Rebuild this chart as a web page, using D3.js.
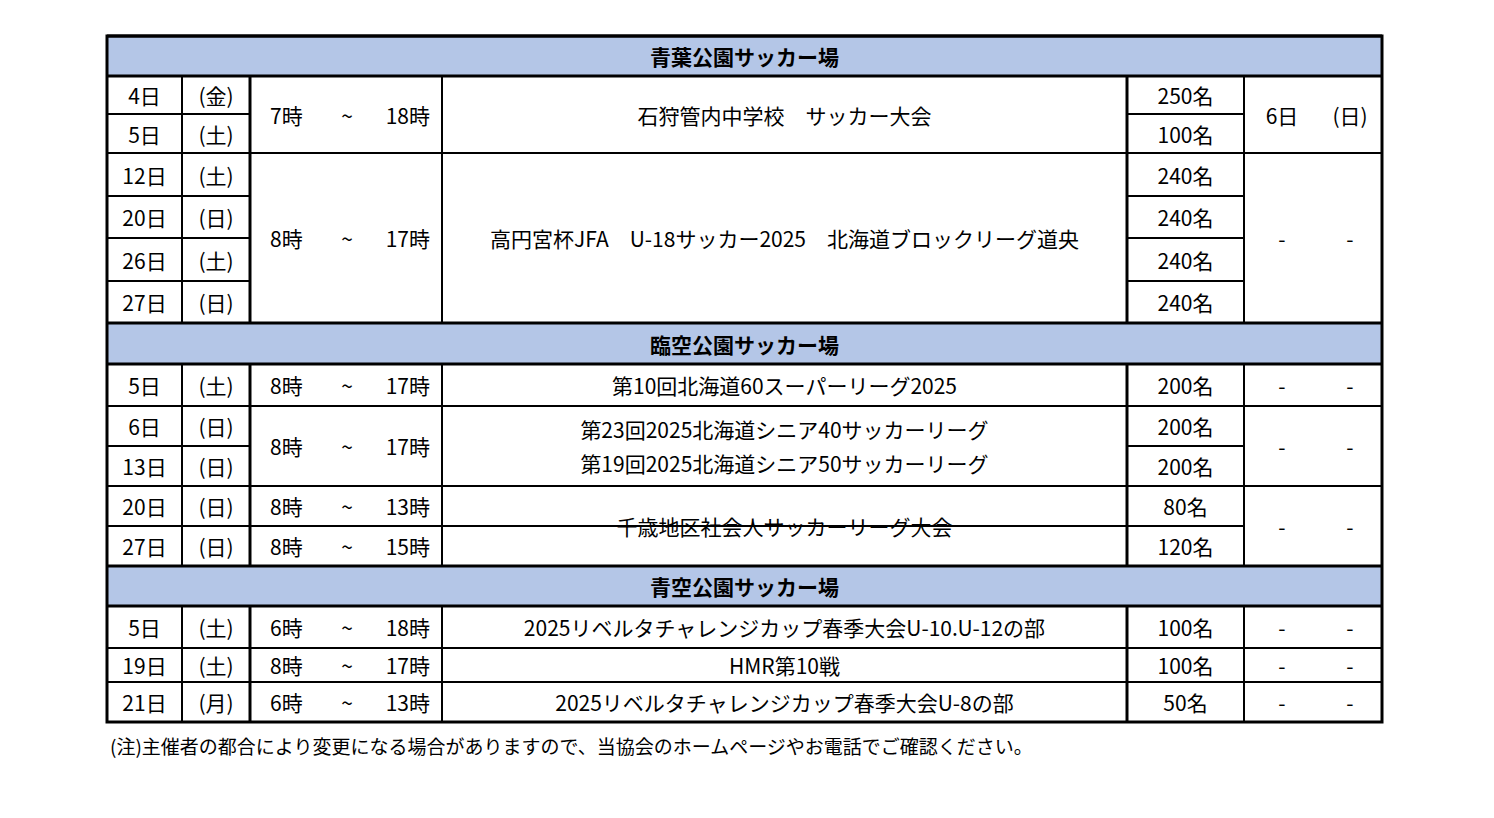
<!DOCTYPE html><html><head><meta charset="utf-8"><script src="https://cdn.jsdelivr.net/npm/d3@7"></script>
<style>body{margin:0;background:#fff}</style></head><body><svg id="c" width="1494" height="818"></svg>
<script>
const headers=[{row:0,text:"青葉公園サッカー場"},{row:7,text:"臨空公園サッカー場"},{row:13,text:"青空公園サッカー場"}];
const dayRows=[1,2,3,4,5,6,8,9,10,11,12,14,15,16];
const days=["4日","5日","12日","20日","26日","27日","5日","6日","13日","20日","27日","5日","19日","21日"];
const weekdays=["(金)","(土)","(土)","(日)","(土)","(日)","(土)","(日)","(日)","(日)","(日)","(土)","(土)","(月)"];
const counts=["250名","100名","240名","240名","240名","240名","200名","200名","200名","80名","120名","100名","100名","50名"];
const timeSpans=[[1,2],[3,6],[8,8],[9,10],[11,11],[12,12],[14,14],[15,15],[16,16]];
const timeStart=["7時","8時","8時","8時","8時","8時","6時","8時","6時"];
const timeEnd=["18時","17時","17時","17時","13時","15時","18時","17時","13時"];
const eventSpans=[[1,2],[3,6],[8,8],[9,10],[11,12],[14,14],[15,15],[16,16]];
const events=[["石狩管内中学校　サッカー大会"],["高円宮杯JFA　U-18サッカー2025　北海道ブロックリーグ道央"],["第10回北海道60スーパーリーグ2025"],["第23回2025北海道シニア40サッカーリーグ","第19回2025北海道シニア50サッカーリーグ"],["千歳地区社会人サッカーリーグ大会"],["2025リベルタチャレンジカップ春季大会U-10.U-12の部"],["HMR第10戦"],["2025リベルタチャレンジカップ春季大会U-8の部"]];
const extraSpans=[[1,2],[3,6],[8,8],[9,10],[11,12],[14,14],[15,15],[16,16]];
const extraA=["6日","-","-","-","-","-","-","-"];
const extraB=["(日)","-","-","-","-","-","-","-"];
const note="(注)主催者の都合により変更になる場合がありますので、当協会のホームページやお電話でご確認ください。";

const rowEdges=[36,76,114,153,196,238,281,323,364,406,446,486,526,566,606,648,682,722];
const y=i=>rowEdges[i];
const cols=[107,182,250,442,1127,1244,1382];
const svg=d3.select("#c");
const F="'Noto Sans CJK JP','Noto Sans',sans-serif";
const txt=(x,yy,t,anchor="middle",bold=false)=>svg.append("text").attr("x",x).attr("y",yy).attr("text-anchor",anchor).attr("dominant-baseline","central").attr("font-family",F).attr("font-size",21).attr("font-weight",bold?"bold":"normal").attr("fill","#000").text(t);
const mid=(a,b)=>(y(a)+y(b+1))/2;
// header fills
headers.forEach(h=>{svg.append("rect").attr("x",cols[0]).attr("y",y(h.row)).attr("width",cols[6]-cols[0]).attr("height",y(h.row+1)-y(h.row)).attr("fill","#B4C6E7");
 txt((cols[0]+cols[6])/2,mid(h.row,h.row),h.text,"middle",true);});
const line=(x1,y1,x2,y2,w)=>svg.append("line").attr("x1",x1).attr("y1",y1).attr("x2",x2).attr("y2",y2).attr("stroke","#000").attr("stroke-width",w);
// day / weekday / count cells
dayRows.forEach((r,i)=>{txt((cols[0]+cols[1])/2,mid(r,r),days[i]);txt((cols[1]+cols[2])/2,mid(r,r),weekdays[i]);txt((cols[4]+cols[5])/2,mid(r,r),counts[i]);
 line(cols[0],y(r),cols[2],y(r),2);line(cols[4],y(r),cols[5],y(r),2);});
timeSpans.forEach((s,i)=>{const m=mid(s[0],s[1]);txt(270,m,timeStart[i],"start");txt(347,m,"~");txt(430,m,timeEnd[i],"end");line(cols[2],y(s[0]),cols[4],y(s[0]),2);});
eventSpans.forEach((s,i)=>{const m=mid(s[0],s[1]);const ls=events[i];ls.forEach((t,k)=>txt((cols[3]+cols[4])/2,m+(k-(ls.length-1)/2)*34,t));line(cols[3],y(s[0]),cols[4],y(s[0]),2);});
extraSpans.forEach((s,i)=>{const m=mid(s[0],s[1]);txt(1282,m,extraA[i]);txt(1350,m,extraB[i]);line(cols[5],y(s[0]),cols[6],y(s[0]),2);});
// vertical lines in data sections
const sections=[[1,6],[8,12],[14,16]];
sections.forEach(s=>{[1,2,3,4,5].forEach(c=>line(cols[c],y(s[0]),cols[c],y(s[1]+1),(c===2||c===4)?3:2));});
// header borders
headers.forEach(h=>{line(cols[0],y(h.row),cols[6],y(h.row),3);line(cols[0],y(h.row+1),cols[6],y(h.row+1),3);});
svg.append("rect").attr("x",cols[0]).attr("y",y(0)).attr("width",cols[6]-cols[0]).attr("height",y(17)-y(0)).attr("fill","none").attr("stroke","#000").attr("stroke-width",3);
svg.append("text").attr("x",110).attr("y",745).attr("dominant-baseline","central").attr("font-family",F).attr("font-size",19).text(note);
</script></body></html>
